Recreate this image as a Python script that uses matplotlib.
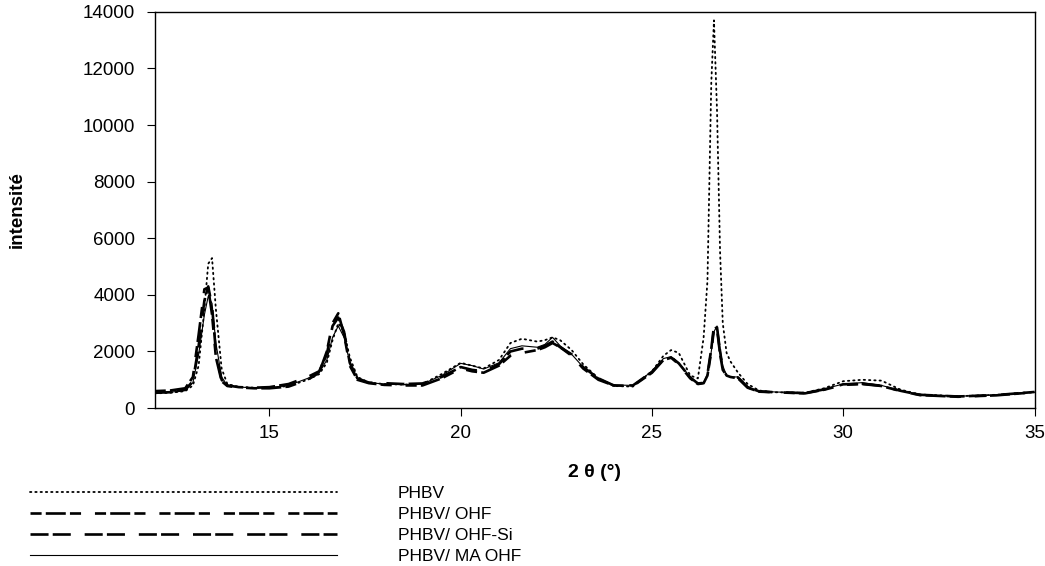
import matplotlib
matplotlib.use("Agg")
import matplotlib.pyplot as plt

plt.rcParams["font.family"] = ["Liberation Sans", "DejaVu Sans"]
plt.rcParams["lines.scale_dashes"] = False

# 2 theta grid (deg)
two_theta = [
    12.0, 12.4, 12.8, 13.0, 13.15, 13.3, 13.4, 13.5, 13.6, 13.75,
    13.9, 14.2, 14.6, 15.0, 15.5, 16.0, 16.3, 16.5, 16.65, 16.8,
    16.95, 17.1, 17.3, 17.6, 18.0, 18.5, 19.0, 19.5, 20.0, 20.3,
    20.6, 21.0, 21.3, 21.6, 22.0, 22.2, 22.4, 22.6, 22.9, 23.2,
    23.6, 24.0, 24.5, 25.0, 25.3, 25.5, 25.7, 26.0, 26.2, 26.35,
    26.45, 26.55, 26.62, 26.7, 26.78, 26.85, 26.95, 27.05, 27.25, 27.5,
    27.8, 28.2, 29.0, 29.5, 30.0, 30.5, 31.0, 31.5, 32.0, 33.0,
    34.0, 35.0,
]

phbv = [
    520, 540, 600, 800, 1500, 3500, 5100, 5300, 3500, 1400,
    850, 750, 720, 720, 780, 1000, 1200, 1600, 2400, 3000,
    2700, 1800, 1100, 900, 850, 830, 850, 1200, 1600, 1500,
    1400, 1700, 2300, 2450, 2350, 2400, 2500, 2400, 2050, 1550,
    1050, 780, 760, 1300, 1850, 2050, 1950, 1150, 1050, 2500,
    4500, 11500, 13700, 10500, 5500, 3000, 1950, 1650, 1250, 850,
    620, 560, 540, 700, 950, 1000, 970, 650, 480, 420,
    470, 560,
]

phbv_ohf = [
    600, 620, 700, 1100, 2600, 4200, 4250, 3300, 1800, 950,
    780, 730, 700, 700, 760, 1000, 1250, 2000, 3000, 3350,
    2600, 1500, 1000, 880, 820, 800, 800, 1050, 1400, 1300,
    1250, 1500, 1850, 1950, 2050, 2150, 2300, 2150, 1850, 1400,
    1000, 800, 780, 1250, 1700, 1780, 1550, 1050, 850, 880,
    1150, 2000, 2800, 2850, 2000, 1400, 1150, 1100, 1050, 720,
    580, 560, 520, 650, 820, 850, 780, 600, 460, 400,
    450, 560,
]

phbv_ohf_si = [
    540, 560, 650, 950, 2200, 3800, 4300, 3600, 2000, 1000,
    800, 740, 720, 740, 850, 1100, 1300, 1900, 2900, 3200,
    2700, 1600, 1050, 900, 880, 850, 870, 1100, 1450, 1350,
    1300, 1550, 2000, 2100, 2100, 2200, 2350, 2150, 1900, 1450,
    1050, 800, 800, 1280, 1720, 1800, 1580, 1080, 870, 890,
    1200, 2100, 2900, 2800, 1900, 1350, 1150, 1100, 1080, 740,
    590, 560, 530, 660, 840, 860, 790, 610, 470, 410,
    460, 570,
]

phbv_ma_ohf = [
    560, 560, 620, 900, 1900, 3300, 3950, 3700, 2300, 1100,
    800, 740, 720, 720, 800, 1050, 1250, 1700, 2500, 2900,
    2500, 1600, 1050, 900, 850, 830, 850, 1150, 1580, 1500,
    1380, 1600, 2100, 2200, 2150, 2250, 2500, 2200, 1900, 1450,
    1050, 820, 800, 1300, 1750, 1820, 1600, 1100, 880, 900,
    1200, 2000, 2700, 2900, 2100, 1500, 1150, 1100, 1100, 750,
    600, 570, 540, 680, 850, 900, 800, 620, 480, 420,
    460, 560,
]

labels = ["PHBV", "PHBV/ OHF", "PHBV/ OHF-Si", "PHBV/ MA OHF"]

fig = plt.figure(figsize=(10.45, 5.66), dpi=100)
ax = fig.add_axes([0.148, 0.279, 0.842, 0.700])

ax.plot(two_theta, phbv, color="black", lw=1.3, linestyle=(0, (1.0, 2.8)),
        dash_capstyle="round", label=labels[0])
ax.plot(two_theta, phbv_ohf, color="black", lw=1.9,
        dashes=(8, 3, 14.4, 3, 8, 10), label=labels[1])
ax.plot(two_theta, phbv_ohf_si, color="black", lw=1.9,
        dashes=(13, 3, 13, 10), label=labels[2])
ax.plot(two_theta, phbv_ma_ohf, color="black", lw=0.8, label=labels[3])

ax.set_xlim(12, 35)
ax.set_ylim(0, 14000)
ax.set_xticks([15, 20, 25, 30, 35])
ax.set_yticks(range(0, 14001, 2000))
ax.tick_params(axis="x", direction="out", length=6, width=0.8, pad=6, labelsize=13.5)
ax.tick_params(axis="y", direction="out", length=6, width=0.8, pad=8, labelsize=13.5)
for spine in ax.spines.values():
    spine.set_linewidth(1.0)

ax.set_xlabel("2 θ (°)", fontsize=14, fontweight="bold", labelpad=16)
ax.set_ylabel("intensité", fontsize=13.5, fontweight="bold", labelpad=41)

fig.legend(loc="upper left", bbox_to_anchor=(0.0287, 0.141), frameon=False,
           fontsize=12.5, handlelength=17.7, handletextpad=3.5,
           labelspacing=0.33, borderpad=0, borderaxespad=0)

fig.savefig("out.png", dpi=100)
